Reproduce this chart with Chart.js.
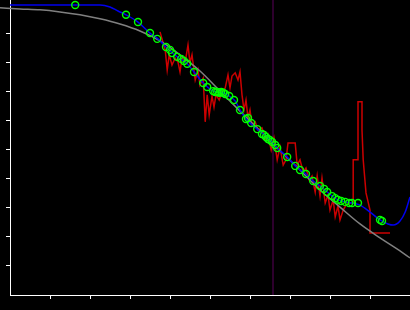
<!DOCTYPE html>
<html>
<head>
<meta charset="utf-8">
<script src="https://cdn.jsdelivr.net/npm/chart.js@4"></script>
<style>
  body { margin: 0; background: #000; }
  canvas { display: block; }
</style>
</head>
<body>
<canvas id="chart" width="410" height="310"></canvas>
<script>
// grey reference curve
const refX = [-0.25, 0.25, 0.75, 1.25, 1.75, 2.25, 2.75, 3.25, 3.75, 4.25, 4.75, 5.25, 5.75, 6.25, 6.75, 7.25, 7.75, 8.25, 8.75, 9.25, 9.75, 10];
const refY = [9.90, 9.86, 9.83, 9.76, 9.66, 9.52, 9.34, 9.10, 8.76, 8.28, 7.72, 7.03, 6.34, 5.66, 4.97, 4.31, 3.62, 3.03, 2.45, 1.97, 1.52, 1.28];

// blue fitted curve
const fitX = [0, 1.25, 2.25, 2.5, 2.7, 2.9, 3.2, 3.5, 3.7, 3.9, 4.18, 4.43, 4.6, 4.83, 5.08, 5.33, 5.48, 5.63, 5.75, 5.9, 6.18, 6.43, 6.68, 6.93, 7.13, 7.4, 7.58, 7.75, 7.93, 8.2, 8.55, 8.75, 9.0, 9.25, 9.45, 9.58, 9.75, 9.88, 10];
const fitY = [10.0, 10.0, 10.0, 9.93, 9.79, 9.66, 9.41, 9.03, 8.83, 8.55, 8.21, 7.97, 7.69, 7.31, 7.03, 6.97, 6.86, 6.69, 6.38, 6.07, 5.72, 5.45, 5.07, 4.76, 4.45, 4.17, 3.93, 3.76, 3.55, 3.28, 3.17, 3.10, 2.86, 2.59, 2.45, 2.41, 2.55, 2.86, 3.38];

// red raw signal
const rawX = [3.75, 3.83, 3.88, 3.93, 3.98, 4.05, 4.13, 4.2, 4.25, 4.3, 4.38, 4.45, 4.5, 4.55, 4.63, 4.7, 4.75, 4.83, 4.88, 4.93, 4.98, 5.05, 5.1, 5.15, 5.23, 5.3, 5.38, 5.45, 5.5, 5.55, 5.63, 5.7, 5.75, 5.8, 5.85, 5.9, 5.95, 6.0, 6.05, 6.13, 6.2, 6.3, 6.4, 6.45, 6.53, 6.6, 6.68, 6.75, 6.83, 6.9, 6.95, 7.13, 7.18, 7.25, 7.33, 7.4, 7.48, 7.55, 7.63, 7.68, 7.75, 7.8, 7.88, 7.95, 8.0, 8.08, 8.13, 8.2, 8.25, 8.33, 8.4, 8.5, 8.58, 8.58, 8.7, 8.7, 8.8, 8.8, 8.83, 8.9, 9.0, 9.0, 9.5];
const rawY = [9.07, 8.69, 8.45, 7.76, 8.28, 7.93, 8.17, 8.03, 7.69, 8.17, 8.03, 8.62, 8.0, 8.28, 7.41, 7.76, 7.24, 7.48, 5.97, 6.90, 6.21, 6.86, 6.48, 6.90, 6.72, 7.0, 7.14, 7.59, 7.14, 7.55, 7.66, 7.41, 7.69, 6.90, 6.38, 6.72, 6.10, 6.38, 5.86, 5.97, 5.69, 5.76, 5.34, 5.52, 5.0, 5.41, 4.66, 5.10, 4.48, 4.66, 5.24, 5.24, 4.48, 4.66, 4.24, 4.38, 3.97, 4.10, 3.55, 4.10, 3.41, 4.03, 3.17, 3.45, 2.93, 3.28, 2.69, 3.07, 2.59, 2.93, 3.10, 3.17, 3.17, 4.66, 4.66, 6.66, 6.66, 5.69, 4.66, 3.52, 2.93, 2.14, 2.14];

// green sample markers
const sampleX = [1.63, 2.9, 3.2, 3.5, 3.68, 3.9, 4.0, 4.05, 4.18, 4.28, 4.35, 4.43, 4.6, 4.83, 4.93, 5.08, 5.13, 5.18, 5.23, 5.28, 5.33, 5.38, 5.48, 5.6, 5.75, 5.9, 5.95, 6.03, 6.18, 6.3, 6.35, 6.4, 6.45, 6.5, 6.55, 6.63, 6.68, 6.93, 7.13, 7.25, 7.4, 7.58, 7.75, 7.85, 7.93, 8.05, 8.13, 8.2, 8.28, 8.38, 8.48, 8.55, 8.7, 9.25, 9.3];
const sampleY = [10.0, 9.66, 9.41, 9.03, 8.83, 8.55, 8.45, 8.34, 8.21, 8.14, 8.07, 7.97, 7.69, 7.31, 7.17, 7.03, 7.0, 7.0, 6.97, 7.0, 6.97, 6.93, 6.86, 6.72, 6.38, 6.07, 6.10, 5.93, 5.72, 5.55, 5.52, 5.45, 5.38, 5.34, 5.28, 5.17, 5.07, 4.76, 4.45, 4.31, 4.17, 3.93, 3.76, 3.66, 3.55, 3.41, 3.34, 3.28, 3.24, 3.21, 3.17, 3.17, 3.17, 2.59, 2.55];

// vertical marker position
const markerX = 6.575;

const xTicks = [1, 2, 3, 4, 5, 6, 7, 8, 9];
const yTicks = [1, 2, 3, 4, 5, 6, 7, 8, 9];
const yMax = 10.17;

function pairs(xs, ys) {
    return xs.map((x, i) => ({ x: x, y: ys[i] }));
}

function axisOptions(min, max, ticks, isX) {
    return {
        type: 'linear',
        min: min,
        max: max,
        z: 1,
        ticks: { display: false },
        grid: { drawOnChartArea: false, drawTicks: true, tickLength: 4, color: '#ffffff', lineWidth: 1 },
        border: { display: true, color: '#ffffff', width: 1 },
        afterBuildTicks: axis => { axis.ticks = ticks.map(v => ({ value: v })); },
        afterFit: axis => {
            if (isX) axis.height = 15; else axis.width = 10;
        }
    };
}

function createChart() {
    const ctx = document.getElementById('chart').getContext('2d');
    new Chart(ctx, {
        type: 'line',
        data: {
            datasets: [
                {
                    type: 'scatter',
                    data: pairs(sampleX, sampleY),
                    showLine: false,
                    pointStyle: 'circle',
                    pointRadius: 3.5,
                    pointBorderWidth: 1.4,
                    pointBorderColor: '#00ff00',
                    pointBackgroundColor: 'rgba(0,0,0,0)',
                    order: 0
                },
                {
                    data: pairs(fitX, fitY),
                    borderColor: '#0000ee',
                    borderWidth: 1.5,
                    pointRadius: 0,
                    cubicInterpolationMode: 'monotone',
                    order: 1
                },
                {
                    data: pairs(refX, refY),
                    borderColor: '#808080',
                    borderWidth: 1.5,
                    pointRadius: 0,
                    cubicInterpolationMode: 'monotone',
                    clip: false,
                    order: 2
                },
                {
                    data: pairs(rawX, rawY),
                    borderColor: '#cc0000',
                    borderWidth: 1.5,
                    pointRadius: 0,
                    tension: 0,
                    order: 3
                },
                {
                    data: [{ x: markerX, y: 0 }, { x: markerX, y: yMax }],
                    borderColor: '#5a005a',
                    borderWidth: 1,
                    pointRadius: 0,
                    order: 4
                }
            ]
        },
        options: {
            responsive: false,
            animation: false,
            layout: { padding: 0, autoPadding: false },
            plugins: { legend: { display: false }, tooltip: { enabled: false } },
            scales: {
                x: axisOptions(0, 10, xTicks, true),
                y: axisOptions(0, yMax, yTicks, false)
            }
        }
    });
}

document.addEventListener('DOMContentLoaded', () => {
    createChart();
});
</script>
</body>
</html>
